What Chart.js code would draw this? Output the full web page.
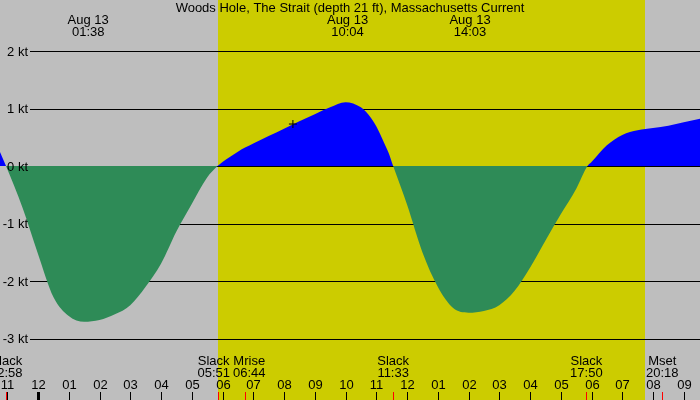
<!DOCTYPE html>
<html>
<head>
<meta charset="utf-8">
<script src="https://cdn.jsdelivr.net/npm/chart.js@4/dist/chart.umd.min.js"></script>
<style>
  body { margin: 0; background: #bebebe; }
  #wrap { width: 700px; height: 400px; }
</style>
</head>
<body>
<div id="wrap"><canvas id="tideChart" width="700" height="400"></canvas></div>
<script>
// Current speed (kt) by hour from midnight Aug 13
const times = [-1.24, -1.04, -0.5, 0, 0.5, 1.0, 1.5, 2.0, 2.5, 3.0,
    3.5, 4.0, 4.5, 5.0, 5.5, 5.84, 6.0, 6.25, 6.5, 7.0,
    7.5, 8.0, 8.5, 9.0, 9.5, 10.0, 10.5, 10.75, 11.0, 11.25,
    11.4, 11.55, 12.0, 12.5, 13.0, 13.5, 14.0, 14.5, 15.0, 15.5,
    16.0, 16.5, 17.0, 17.5, 17.87, 18.0, 18.5, 19.0, 19.5, 20.0,
    20.5, 21.0, 21.53];
const speeds = [0.25, 0, -0.73, -1.53, -2.28, -2.61, -2.71, -2.68, -2.58, -2.42,
    -2.1, -1.7, -1.14, -0.66, -0.2, 0, 0.07, 0.16, 0.25, 0.39,
    0.52, 0.65, 0.78, 0.9, 1.02, 1.11, 1.02, 0.89, 0.69, 0.41,
    0.23, 0, -0.67, -1.5, -2.1, -2.47, -2.55, -2.52, -2.42, -2.17,
    -1.77, -1.3, -0.84, -0.4, 0, 0.07, 0.36, 0.54, 0.62, 0.66,
    0.7, 0.76, 0.82];

// "now" marker
const markTime = [8.29];
const markSpeed = [0.73];

// axis ticks
const ktTicks = [2, 1, 0, -1, -2, -3];
const hourTicks = [-1, 0, 1, 2, 3, 4, 5, 6, 7, 8, 9, 10, 11, 12, 13, 14, 15, 16, 17, 18, 19, 20, 21];
const hourLabels = ['11', '12', '01', '02', '03', '04', '05', '06', '07', '08', '09', '10',
    '11', '12', '01', '02', '03', '04', '05', '06', '07', '08', '09'];

// max / min current labels at the top
const peakTimes = [1.633, 10.067, 14.05];
const peakLabels = ['01:38', '10:04', '14:03'];
const peakDate = 'Aug 13';

// slack, moon events at the bottom
const eventNames = ['Slack', 'Slack', 'Mrise', 'Slack', 'Slack', 'Mset'];
const eventTimes = [-1.033, 5.85, 6.733, 11.55, 17.833, 20.3];
const eventLabels = ['22:58', '05:51', '06:44', '11:33', '17:50', '20:18'];

// daylight
const sunrise = 5.85;
const sunset = 19.74;

const title = 'Woods Hole, The Strait (depth 21 ft), Massachusetts Current';
const FONT = '13px "Liberation Sans", Arial, sans-serif';

const tidePlugin = {
    id: 'tide',
    beforeDraw(chart) {
        const { ctx, width, height, scales: { x, y } } = chart;
        ctx.save();
        ctx.fillStyle = '#bebebe';
        ctx.fillRect(0, 0, width, height);
        const x0 = Math.round(x.getPixelForValue(sunrise));
        const x1 = Math.round(x.getPixelForValue(sunset));
        ctx.fillStyle = '#cccc00';
        ctx.fillRect(x0, 0, x1 - x0, height);

        ctx.strokeStyle = '#000';
        ctx.lineWidth = 1;
        ktTicks.forEach(v => {
            const py = Math.round(y.getPixelForValue(v)) + 0.5;
            ctx.beginPath();
            ctx.moveTo(30, py);
            ctx.lineTo(width, py);
            ctx.stroke();
        });
        ctx.restore();
    },
    afterDatasetsDraw(chart) {
        const { ctx, width, scales: { x, y } } = chart;
        ctx.save();
        ctx.font = FONT;
        ctx.fillStyle = '#000';
        ctx.textBaseline = 'middle';

        // y labels
        ctx.textAlign = 'right';
        ktTicks.forEach(v => {
            ctx.fillText(v + ' kt', 28, y.getPixelForValue(v) + 1);
        });

        // title + peaks
        ctx.textAlign = 'center';
        ctx.fillText(title, width / 2, 8);
        peakTimes.forEach((t, i) => {
            const px = x.getPixelForValue(t);
            ctx.fillText(peakDate, px, 20);
            ctx.fillText(peakLabels[i], px, 32);
        });

        // hour ticks + labels
        hourTicks.forEach((h, i) => {
            const px = Math.round(x.getPixelForValue(h));
            ctx.fillStyle = '#000';
            if (h === 0) ctx.fillRect(px - 1, 392, 3, 8);
            else ctx.fillRect(px, 392, 1, 8);
            ctx.fillText(hourLabels[i], px + 0.5, 385);
        });

        // event labels, pushed apart when they touch
        const centers = eventTimes.map(t => x.getPixelForValue(t));
        const widths = eventNames.map((n, i) => Math.max(ctx.measureText(n).width, ctx.measureText(eventLabels[i]).width));
        for (let i = 1; i < centers.length; i++) {
            const overlap = (centers[i - 1] + widths[i - 1] / 2 + 3) - (centers[i] - widths[i] / 2);
            if (overlap > 0) {
                centers[i - 1] -= overlap / 2;
                centers[i] += overlap / 2;
            }
        }
        eventTimes.forEach((t, i) => {
            const px = Math.round(x.getPixelForValue(t));
            ctx.fillStyle = '#ff0000';
            ctx.fillRect(px, 392, 1, 8);
            ctx.fillStyle = '#000';
            ctx.fillText(eventNames[i], centers[i], 361);
            ctx.fillText(eventLabels[i], centers[i], 373);
        });
        ctx.restore();
    }
};

const data = {
    datasets: [{
        label: 'now',
        data: markTime.map((t, i) => ({ x: t, y: markSpeed[i] })),
        showLine: false,
        fill: false,
        pointStyle: 'cross',
        pointRadius: 4,
        pointBorderColor: '#000',
        pointBorderWidth: 1,
    }, {
        label: 'current',
        data: times.map((t, i) => ({ x: t, y: speeds[i] })),
        borderWidth: 0,
        borderColor: 'rgba(0,0,0,0)',
        pointRadius: 0,
        cubicInterpolationMode: 'monotone',
        fill: {
            target: { value: 0 },
            above: '#0000ff',
            below: '#2e8b57'
        }
    }]
};

const config = {
    type: 'line',
    data,
    options: {
        responsive: false,
        animation: false,
        devicePixelRatio: 1,
        layout: { padding: 0, autoPadding: false },
        plugins: {
            legend: { display: false },
            tooltip: { enabled: false },
            title: { display: false }
        },
        scales: {
            x: {
                type: 'linear',
                display: false,
                min: -38 / 30.75,
                max: 662 / 30.75
            },
            y: {
                display: false,
                min: -234 / 57.5,
                max: 166 / 57.5
            }
        }
    },
    plugins: [tidePlugin]
};

const tideChart = new Chart(document.getElementById('tideChart'), config);
</script>
</body>
</html>
